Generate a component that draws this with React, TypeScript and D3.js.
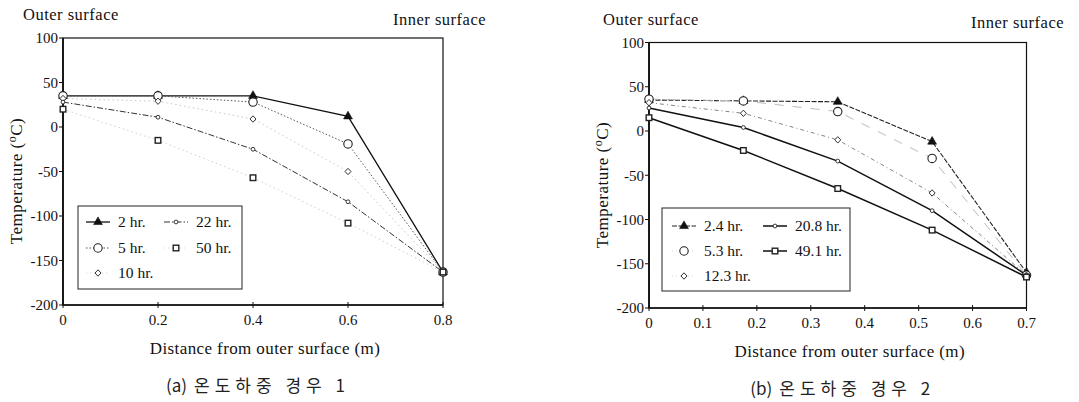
import React from 'react';
import * as d3 from 'd3';

// Case 1 (left panel)
const LEFT_X = [0, 0.2, 0.4, 0.6, 0.8];
const LEFT_X_TICKS = [0, 0.2, 0.4, 0.6, 0.8];
const LEFT_2HR = [35, 35, 35, 12, -163];
const LEFT_5HR = [35, 35, 28, -19, -163];
const LEFT_10HR = [32, 29, 9, -50, -163];
const LEFT_22HR = [28, 11, -25, -84, -163];
const LEFT_50HR = [20, -15, -57, -108, -163];

// Case 2 (right panel)
const RIGHT_X = [0, 0.175, 0.35, 0.525, 0.7];
const RIGHT_X_TICKS = [0, 0.1, 0.2, 0.3, 0.4, 0.5, 0.6, 0.7];
const RIGHT_2_4HR = [35, 34, 33, -12, -160];
const RIGHT_5_3HR = [36, 34, 22, -31, -163];
const RIGHT_12_3HR = [32, 20, -10, -70, -163];
const RIGHT_20_8HR = [26, 4, -34, -90, -163];
const RIGHT_49_1HR = [15, -22, -65, -112, -165];

const Y_TICKS = [100, 50, 0, -50, -100, -150, -200];

const SERIF = "'Liberation Serif', 'Times New Roman', 'DejaVu Serif', serif";
const KOREAN = "'Noto Sans CJK KR', sans-serif";

type Marker = 'triangle' | 'circle' | 'bigcircle' | 'diamond' | 'square' | 'none';

interface Series {
  label: string;
  values: number[];
  stroke: string;
  dash: string;
  width: number;
  marker: Marker;
  lineInLegend: boolean;
  col: number;
  row: number;
}

function drawMarker(type: Marker, x: number, y: number, key: string | number) {
  switch (type) {
    case 'triangle':
      return (
        <path key={key} transform={`translate(${x},${y})`}
          d={d3.symbol(d3.symbolTriangle, 34)() || ''} fill="#111" stroke="#111" strokeWidth={0.6} />
      );
    case 'bigcircle':
      return <circle key={key} cx={x} cy={y} r={4.2} fill="#fff" stroke="#222" strokeWidth={1.1} />;
    case 'circle':
      return <circle key={key} cx={x} cy={y} r={1.9} fill="#fff" stroke="#222" strokeWidth={0.9} />;
    case 'diamond':
      return (
        <path key={key} d={`M${x},${y - 3.2}L${x + 3},${y}L${x},${y + 3.2}L${x - 3},${y}Z`}
          fill="#fff" stroke="#333" strokeWidth={1} />
      );
    case 'square':
      return <rect key={key} x={x - 2.8} y={y - 2.8} width={5.6} height={5.6} fill="#fff" stroke="#222" strokeWidth={1.4} />;
    default:
      return null;
  }
}

interface PanelProps {
  left: number;
  right: number;
  top: number;
  bottom: number;
  xs: number[];
  xMax: number;
  xTicks: number[];
  series: Series[];
  legend: { x: number; y: number; w: number; h: number; rows: number[]; cols: number[] };
  yTitle: { x: number; y: number };
  outer: { x: number; y: number };
  inner: { x: number; y: number };
  tag: string;
  caption: string;
}

const serif = (size: number, spacing = 0) => ({ fontFamily: SERIF, fontSize: size, letterSpacing: spacing });

function Panel(p: PanelProps) {
  const x = d3.scaleLinear().domain([0, p.xMax]).range([p.left, p.right]);
  const y = d3.scaleLinear().domain([-200, 100]).range([p.bottom, p.top]);
  const line = d3.line<[number, number]>().x(d => x(d[0])).y(d => y(d[1]));
  const cx = (p.left + p.right) / 2;

  return (
    <g>
      <text x={p.outer.x} y={p.outer.y} style={serif(16.5, 0.5)} fill="#111">Outer surface</text>
      <text x={p.inner.x} y={p.inner.y} style={serif(16.5, 0.5)} fill="#111">Inner surface</text>

      {/* frame */}
      <rect x={p.left} y={p.top} width={p.right - p.left} height={p.bottom - p.top} fill="none" stroke="#111" strokeWidth={1.2} />
      <line x1={p.left} x2={p.left} y1={p.top} y2={p.bottom} stroke="#111" strokeWidth={1.8} />
      <line x1={p.left} x2={p.right} y1={p.bottom} y2={p.bottom} stroke="#111" strokeWidth={1.5} />

      {/* y axis */}
      {Y_TICKS.map(t => (
        <g key={t}>
          <line x1={p.left - 4} x2={p.left} y1={y(t)} y2={y(t)} stroke="#111" strokeWidth={1} />
          <text x={p.left - 5} y={y(t)} dy="0.35em" textAnchor="end" style={serif(15)} fill="#111">{t}</text>
        </g>
      ))}

      {/* x axis */}
      {p.xTicks.map(t => (
        <g key={t}>
          <line x1={x(t)} x2={x(t)} y1={p.bottom - 3} y2={p.bottom + 3} stroke="#111" strokeWidth={1} />
          <text x={x(t)} y={p.bottom + 20} textAnchor="middle" style={serif(15)} fill="#111">{String(+t.toFixed(1))}</text>
        </g>
      ))}

      <text x={cx + 12} y={p.bottom + 49} textAnchor="middle" style={serif(17, 0.4)} fill="#111">
        Distance from outer surface (m)
      </text>
      <text transform={`translate(${p.yTitle.x},${p.yTitle.y}) rotate(-90)`} textAnchor="middle" style={serif(17, 0.5)} fill="#111">
        Temperature (<tspan fontSize={12} dy={-6}>o</tspan><tspan dy={6}>C)</tspan>
      </text>
      <text x={cx + 5} y={p.bottom + 87} textAnchor="middle" style={{ fontFamily: KOREAN, fontSize: 17 }} fill="#222">
        {p.tag}<tspan dx={7} style={{ letterSpacing: 5 }}>{p.caption}</tspan>
      </text>

      {/* series lines */}
      {p.series.map(s => s.stroke !== 'none' ? (
        <path key={s.label} d={line(p.xs.map((v, i) => [v, s.values[i]] as [number, number])) || ''}
          fill="none" stroke={s.stroke} strokeWidth={s.width} strokeDasharray={s.dash} />
      ) : null)}
      {/* markers */}
      {p.series.map(s => (
        <g key={s.label + 'm'}>
          {p.xs.map((v, i) => drawMarker(s.marker, x(v), y(s.values[i]), i))}
        </g>
      ))}

      {/* legend */}
      <rect x={p.legend.x} y={p.legend.y} width={p.legend.w} height={p.legend.h} fill="#fff" stroke="#222" strokeWidth={1} />
      {p.series.map(s => {
        const lx = p.legend.cols[s.col];
        const ly = p.legend.rows[s.row];
        return (
          <g key={s.label + 'l'}>
            <line x1={lx} x2={lx + 24} y1={ly} y2={ly}
              stroke={s.lineInLegend ? s.stroke : '#bbb'} strokeWidth={s.lineInLegend ? s.width : 0.6}
              strokeDasharray={s.lineInLegend ? s.dash : '1 3'} />
            {drawMarker(s.marker, lx + 12, ly, 'lm')}
            <text x={lx + 32} y={ly} dy="0.35em" style={serif(15.5)} fill="#111">{s.label}</text>
          </g>
        );
      })}
    </g>
  );
}

const leftSeries: Series[] = [
  { label: '2 hr.', values: LEFT_2HR, stroke: '#111', dash: '', width: 1.3, marker: 'triangle', lineInLegend: true, col: 0, row: 0 },
  { label: '5 hr.', values: LEFT_5HR, stroke: '#555', dash: '1.5 2', width: 1, marker: 'bigcircle', lineInLegend: true, col: 0, row: 1 },
  { label: '10 hr.', values: LEFT_10HR, stroke: '#c8c8c8', dash: '1.5 3', width: 1, marker: 'diamond', lineInLegend: false, col: 0, row: 2 },
  { label: '22 hr.', values: LEFT_22HR, stroke: '#333', dash: '6 2 1.5 2', width: 1, marker: 'circle', lineInLegend: true, col: 1, row: 0 },
  { label: '50 hr.', values: LEFT_50HR, stroke: '#cfcfcf', dash: '1.5 3', width: 1, marker: 'square', lineInLegend: false, col: 1, row: 1 },
];

const rightSeries: Series[] = [
  { label: '2.4 hr.', values: RIGHT_2_4HR, stroke: '#222', dash: '5 1.5', width: 1.1, marker: 'triangle', lineInLegend: true, col: 0, row: 0 },
  { label: '5.3 hr.', values: RIGHT_5_3HR, stroke: '#bbb', dash: '9 9', width: 1, marker: 'bigcircle', lineInLegend: false, col: 0, row: 1 },
  { label: '12.3 hr.', values: RIGHT_12_3HR, stroke: '#777', dash: '4 3 1 3', width: 0.9, marker: 'diamond', lineInLegend: false, col: 0, row: 2 },
  { label: '20.8 hr.', values: RIGHT_20_8HR, stroke: '#111', dash: '', width: 1.5, marker: 'circle', lineInLegend: true, col: 1, row: 0 },
  { label: '49.1 hr.', values: RIGHT_49_1HR, stroke: '#111', dash: '', width: 1.5, marker: 'square', lineInLegend: true, col: 1, row: 1 },
];

export default function App() {
  return (
    <svg width={1079} height={402} style={{ position: 'absolute', left: 0, top: 0, background: '#fff' }}>
      <Panel left={63} right={443} top={38} bottom={305} xs={LEFT_X} xMax={0.8} xTicks={LEFT_X_TICKS}
        series={leftSeries}
        legend={{ x: 78, y: 206, w: 164, h: 83, rows: [222, 248, 273], cols: [86, 164] }}
        yTitle={{ x: 22, y: 181 }} outer={{ x: 23, y: 20 }} inner={{ x: 393, y: 25 }}
        tag="(a)" caption="온도하중 경우 1" />
      <Panel left={649} right={1026.5} top={42.5} bottom={308} xs={RIGHT_X} xMax={0.7} xTicks={RIGHT_X_TICKS}
        series={rightSeries}
        legend={{ x: 662, y: 208, w: 188, h: 83, rows: [226, 251, 276], cols: [672, 763] }}
        yTitle={{ x: 608, y: 185 }} outer={{ x: 603, y: 25 }} inner={{ x: 971, y: 28 }}
        tag="(b)" caption="온도하중 경우 2" />
    </svg>
  );
}
